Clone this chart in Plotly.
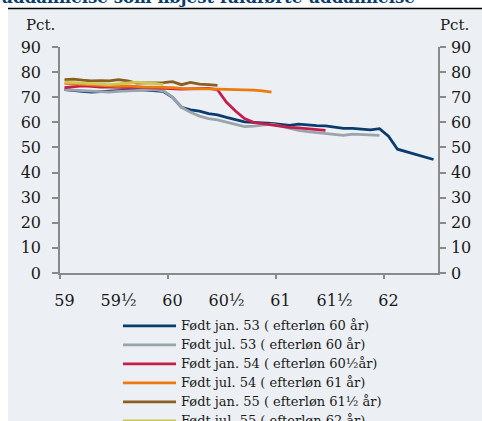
import plotly.graph_objects as go

# ---------------- data ----------------
x_tick_labels = ["59", "59½", "60", "60½", "61", "61½", "62"]
x_tick_months = [0, 6, 12, 18, 24, 30, 36]          # month index since age 59
year_boundaries = [-0.5, 11.5, 23.5, 35.5]
y_ticks = [0, 10, 20, 30, 40, 50, 60, 70, 80, 90]

series_names = [
    "Født jan. 53 ( efterløn 60 år)",
    "Født jul. 53 ( efterløn 60 år)",
    "Født jan. 54 ( efterløn 60½år)",
    "Født jul. 54 ( efterløn 61 år)",
    "Født jan. 55 ( efterløn 61½ år)",
    "Født jul. 55 ( efterløn 62 år)",
]
series_colors = ["#0B3C6E", "#9AA4AC", "#C41E4A", "#EE7A0F", "#8A5E1E", "#CFC651"]

jan53 = [73.0, 72.5, 72.3, 72.0, 72.2, 72.5, 72.8, 73.0, 73.0, 72.8, 72.5, 72.3,
         70.0, 66.0, 65.0, 64.5, 63.5, 63.0, 62.0, 61.0, 60.2, 60.0, 59.9, 59.6,
         59.2, 58.8, 59.3, 58.9, 58.7, 58.6, 58.0, 57.6, 57.6, 57.2, 57.0, 57.5,
         54.5, 49.3, 48.3, 47.0, 46.0, 45.2]
jul53 = [73.0, 72.8, 72.5, 72.5, 72.3, 72.0, 72.3, 72.5, 72.8, 73.0, 73.0, 72.5,
         70.0, 66.0, 64.0, 62.5, 61.5, 61.0, 60.0, 59.2, 58.3, 58.5, 58.8, 59.3,
         58.5, 57.5, 56.8, 56.3, 56.0, 55.6, 55.2, 54.8, 55.3, 55.2, 55.0, 54.8]
jan54 = [73.8, 74.2, 74.5, 74.3, 74.0, 74.0, 73.8, 73.8, 74.0, 73.8, 73.5, 73.5,
         73.3, 73.2, 73.3, 73.3, 73.5, 73.0, 68.0, 64.5, 61.5, 60.0, 59.5, 59.0,
         58.3, 58.0, 57.8, 57.5, 57.2, 56.8]
jul54 = [75.5, 75.3, 75.0, 74.8, 74.5, 74.5, 74.3, 74.5, 74.2, 74.0, 74.0, 74.0,
         73.8, 73.5, 73.3, 73.3, 73.3, 73.2, 73.3, 73.3, 73.0, 72.8, 72.5, 72.0]
jan55 = [77.0, 77.2, 76.8, 76.5, 76.6, 76.5, 77.0, 76.5, 75.6, 75.7, 75.6, 75.8,
         76.2, 75.0, 75.9, 75.2, 75.0, 74.7]
jul55 = [76.0, 75.8, 75.5, 75.3, 75.3, 75.0, 75.3, 75.8, 76.0, 75.7, 75.5, 75.0]

all_series = [jan53, jul53, jan54, jul54, jan55, jul55]

# ---------------- figure ----------------
W, H = 482, 421
ML, MR, MT, MB = 60, 44, 47.3, 148.3
PW, PH = W - ML - MR, H - MT - MB

def px_x(p):   # pixel -> paper x
    return (p - ML) / PW

def px_y(p):   # pixel -> paper y
    return 1 + (MT - p) / PH

BG = "#ECF0F4"
AXC = "#8A8A8A"
FONT = "DejaVu Serif"
TXT = "#1a1a1a"

fig = go.Figure()
for name, color, vals in zip(series_names, series_colors, all_series):
    fig.add_trace(go.Scatter(
        x=list(range(len(vals))), y=vals,
        name='<span style="font-size:13px">' + name + '</span>', mode="lines",
        line=dict(color=color, width=2.8),
    ))

# carrier for the right-hand axis (invisible)
fig.add_trace(go.Scatter(x=[0], y=[0], yaxis="y2", xaxis="x2", showlegend=False,
                         mode="markers", marker=dict(opacity=0), hoverinfo="skip"))

fig.update_layout(
    width=W, height=H,
    margin=dict(l=ML, r=MR, t=MT, b=MB, pad=0, autoexpand=False),
    paper_bgcolor="white", plot_bgcolor=BG,
    font=dict(family=FONT, size=16, color=TXT),
    showlegend=True,
    legend=dict(
        x=px_x(118), y=px_y(311), xanchor="left", yanchor="top",
        bgcolor="rgba(0,0,0,0)", font=dict(family=FONT, size=11.7, color=TXT),
        itemwidth=53, tracegroupgap=0,
    ),
    xaxis=dict(
        range=[-0.5, 41.5], tickmode="array", tickvals=x_tick_months,
        ticktext=x_tick_labels, ticks="", showgrid=False, zeroline=False,
        showline=True, linecolor=AXC, linewidth=1.5, ticklabelstandoff=12,
        tickfont=dict(family=FONT, size=16, color=TXT),
    ),
    xaxis2=dict(
        range=[-0.5, 41.5], overlaying="x", tickmode="array",
        tickvals=year_boundaries, ticks="outside", ticklen=5, tickwidth=1.5,
        tickcolor=AXC, showticklabels=False, showgrid=False, zeroline=False,
        showline=False, side="bottom",
    ),
    yaxis=dict(
        range=[0, 90], tickmode="array", tickvals=y_ticks, ticks="outside",
        ticklen=6, tickwidth=1.5, tickcolor=AXC, showline=True, linecolor=AXC,
        linewidth=1.5, showgrid=False, zeroline=False, ticklabelstandoff=8,
        tickfont=dict(family=FONT, size=16, color=TXT),
    ),
    yaxis2=dict(
        range=[0, 90], tickmode="array", tickvals=y_ticks, ticks="outside",
        ticklen=6, tickwidth=1.5, tickcolor=AXC, showline=True, linecolor=AXC,
        linewidth=1.5, showgrid=False, zeroline=False, overlaying="y", side="right",
        ticklabelstandoff=2,
        tickfont=dict(family=FONT, size=16, color=TXT),
    ),
)

# grey panel, rule line under the header, cropped title
fig.add_shape(type="rect", xref="paper", yref="paper", x0=px_x(8), x1=px_x(W + 20),
              y0=px_y(420.3), y1=px_y(9), fillcolor=BG, line=dict(width=0),
              layer="below")
fig.add_shape(type="line", xref="paper", yref="paper", x0=px_x(8), x1=px_x(W + 20),
              y0=px_y(9), y1=px_y(9), line=dict(color="black", width=1.5))
fig.add_annotation(text="<b>uddannelse som højest fuldførte uddannelse</b>",
                   xref="paper", yref="paper", x=px_x(-1), y=px_y(9),
                   xanchor="left", yanchor="bottom", showarrow=False,
                   font=dict(family=FONT, size=16.6, color="#0B3C6E"))

fig.add_annotation(text="Pct.", xref="paper", yref="paper", x=px_x(40),
                   y=px_y(25), xanchor="center", yanchor="middle",
                   showarrow=False, font=dict(family=FONT, size=15, color=TXT))
fig.add_annotation(text="Pct.", xref="paper", yref="paper", x=px_x(454),
                   y=px_y(25), xanchor="center", yanchor="middle",
                   showarrow=False, font=dict(family=FONT, size=15, color=TXT))

fig.write_html("out.html", config={"displayModeBar": False},
               post_script="document.body.style.margin='0';")
